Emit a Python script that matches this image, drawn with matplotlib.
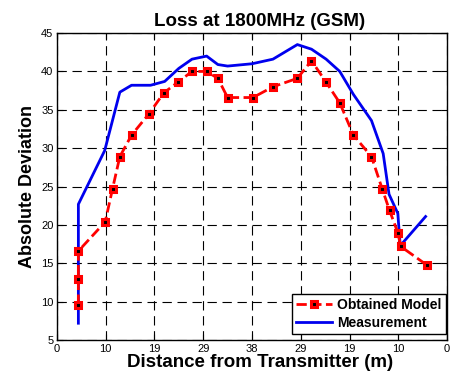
import matplotlib
matplotlib.use("Agg")
import matplotlib.pyplot as plt

plt.rcParams['font.family'] = ['Liberation Sans', 'DejaVu Sans']

tick_pos = [0, 1, 2, 3, 4, 5, 6, 7, 8]
tick_labels = ['0', '10', '19', '29', '38', '29', '19', '10', '0']

model_x = [0.44, 0.44, 0.44, 0.99, 1.14, 1.29, 1.53, 1.89, 2.19, 2.48, 2.77, 3.07,
           3.30, 3.50, 4.02, 4.43, 4.93, 5.22, 5.52, 5.80, 6.08, 6.45, 6.67, 6.82,
           6.99, 7.05, 7.58]
model_y = [9.6, 13.0, 16.6, 20.4, 24.7, 28.9, 31.7, 34.5, 37.2, 38.6, 40.0, 40.0,
           39.1, 36.6, 36.6, 38.0, 39.1, 41.4, 38.6, 35.9, 31.7, 28.9, 24.7, 21.9,
           19.0, 17.2, 14.8]

meas_x = [0.44, 0.44, 0.98, 1.29, 1.53, 1.92, 2.21, 2.50, 2.77, 3.07, 3.30, 3.50,
          4.00, 4.43, 4.93, 5.22, 5.52, 5.80, 6.08, 6.45, 6.69, 6.81, 6.99, 7.04, 7.56]
meas_y = [7.2, 22.7, 29.7, 37.3, 38.2, 38.2, 38.7, 40.4, 41.6, 42.0, 40.9, 40.7,
          41.0, 41.6, 43.5, 42.9, 41.6, 40.0, 37.0, 33.6, 29.3, 24.0, 21.5, 17.3, 21.1]

fig = plt.figure(figsize=(4.59, 3.80), dpi=100)
ax = fig.add_axes([0.124, 0.105, 0.850, 0.808])

ax.plot(model_x, model_y, color='red', linestyle='--', linewidth=2,
        marker='s', markersize=4.2, markerfacecolor='black',
        markeredgecolor='red', markeredgewidth=2.2, label='Obtained Model', zorder=3)
ax.plot(meas_x, meas_y, color='#0000ee', linewidth=2, label='Measurement', zorder=2)

ax.set_xlim(0, 8)
ax.set_ylim(5, 45)
ax.set_xticks(tick_pos)
ax.set_xticklabels(tick_labels)
ax.set_yticks(range(5, 46, 5))
ax.tick_params(direction='in', labelsize=8, length=4, top=True, right=True, pad=2.5)
ax.grid(True, color='black', linestyle=(0, (8.4, 5.1)), linewidth=0.8)
for s in ax.spines.values():
    s.set_linewidth(1.0)

ax.set_title('Loss at 1800MHz (GSM)', fontsize=13.5, fontweight='bold', pad=5, x=0.52)
ax.set_xlabel('Distance from Transmitter (m)', fontsize=13.5, fontweight='bold',
              labelpad=0, x=0.52)
ax.set_ylabel('Absolute Deviation', fontsize=13, fontweight='bold', labelpad=4)

leg = ax.legend(loc='lower right', bbox_to_anchor=(0.997, 0.0195),
                prop={'weight': 'bold', 'size': 10},
                fancybox=False, edgecolor='black', framealpha=1,
                borderaxespad=0, handlelength=2.6, handletextpad=0.4,
                borderpad=0.3, labelspacing=0.3)
leg.get_frame().set_linewidth(1.0)

fig.savefig('out.png', dpi=100)
